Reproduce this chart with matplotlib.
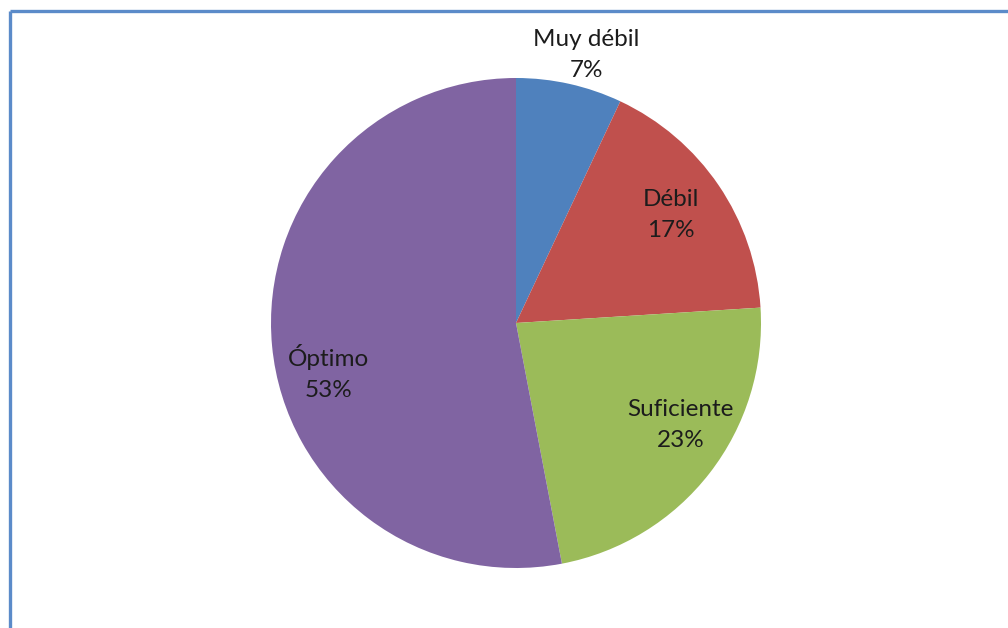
import numpy as np
import matplotlib
matplotlib.use("Agg")
import matplotlib.pyplot as plt
from matplotlib.lines import Line2D

categories = ["Muy débil", "Débil", "Suficiente", "Óptimo"]
values = [7, 17, 23, 53]
colors = ["#4F81BD", "#C0504D", "#9BBB59", "#8064A2"]
# label placement: (radius, angle in degrees) in pie units
label_pos = [(1.13, 75.3), (0.77, 34.8), (0.79, -31.9), (0.79, 194.7)]

W, H = 1008, 628
fig = plt.figure(figsize=(W / 100, H / 100), dpi=100)
fig.patch.set_facecolor("white")

# chart frame (top and left edges visible)
frame_col = "#5B8BC9"
fig.add_artist(Line2D([9.5 / W, 1.0], [1 - 11 / H, 1 - 11 / H], color=frame_col, lw=2.4,
                      transform=fig.transFigure, solid_capstyle="butt"))
fig.add_artist(Line2D([9.5 / W, 9.5 / W], [0.0, 1 - 11 / H], color=frame_col, lw=2.4,
                      transform=fig.transFigure, solid_capstyle="butt"))

cx, cy, r = 516, 323, 245
ax = fig.add_axes([(cx - r) / W, (H - cy - r) / H, 2 * r / W, 2 * r / H])
ax.pie(values, colors=colors, startangle=90, counterclock=False,
       wedgeprops=dict(linewidth=0), radius=1.0)
ax.set_xlim(-1, 1)
ax.set_ylim(-1, 1)
ax.set_aspect("equal")
ax.axis("off")

for name, v, (rr, ang) in zip(categories, values, label_pos):
    a = np.deg2rad(ang)
    ax.text(rr * np.cos(a), rr * np.sin(a), f"{name}\n{v}%", ha="center", va="center",
            fontsize=17.5, family="Lato", color="#1c1c1c", linespacing=1.58)

fig.savefig("out.png", dpi=100)
